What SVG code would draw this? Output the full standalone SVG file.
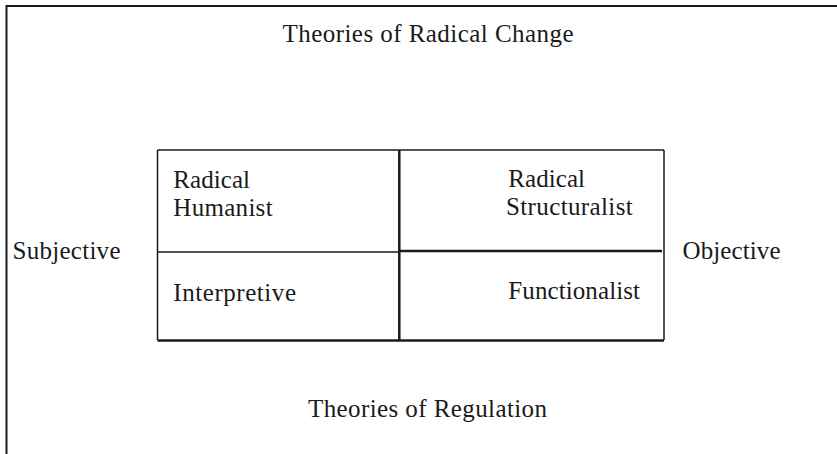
<svg xmlns="http://www.w3.org/2000/svg" width="837" height="454" viewBox="0 0 837 454">
  <style>
    .lbl { font-family: "Liberation Serif", "Times New Roman", serif; font-size: 25px; fill: #1a1a1a; }
    .mid { text-anchor: middle; }
    .frame { stroke: #1a1a1a; stroke-width: 2; fill: none; }
    .thin { stroke: #1a1a1a; stroke-width: 1.5; fill: none; }
    .thick { stroke: #1a1a1a; stroke-width: 2.5; fill: none; }
  </style>
  <rect width="837" height="454" fill="#ffffff"/>

  <!-- outer frame (open on right and bottom) -->
  <g id="frame">
    <line class="frame" x1="6.5" y1="6" x2="837" y2="6"/>
    <line class="frame" x1="6.5" y1="5" x2="6.5" y2="454"/>
  </g>

  <!-- axis labels -->
  <g id="radical-change"><text class="lbl" x="282.5" y="41.5" textLength="291">Theories of Radical Change</text></g>
  <g id="regulation"><text class="lbl" x="308" y="417" textLength="239">Theories of Regulation</text></g>
  <g id="subjective"><text class="lbl" x="12.5" y="259" textLength="108">Subjective</text></g>
  <g id="objective"><text class="lbl" x="682.5" y="259" textLength="98">Objective</text></g>

  <!-- quadrant grid -->
  <g id="grid">
    <line class="thin" x1="157.5" y1="150" x2="664" y2="150"/>
    <line class="thin" x1="157.5" y1="150" x2="157.5" y2="340"/>
    <line class="thin" x1="664" y1="150" x2="664" y2="340"/>
    <line class="thin" x1="157.5" y1="252" x2="399" y2="252"/>
    <line class="thick" x1="399" y1="251" x2="662" y2="251"/>
    <line class="thick" x1="399.3" y1="150" x2="399.3" y2="341"/>
    <line class="thick" x1="157.5" y1="340.5" x2="664" y2="340.5"/>
  </g>

  <!-- quadrants -->
  <g id="radical-humanist">
    <text class="lbl" x="173.3" y="188" textLength="76.7">Radical</text>
    <text class="lbl" x="173.3" y="216" textLength="99.3">Humanist</text>
  </g>
  <g id="radical-structuralist">
    <text class="lbl" x="508.3" y="187" textLength="76.7">Radical</text>
    <text class="lbl" x="506" y="215" textLength="126.7">Structuralist</text>
  </g>
  <g id="interpretive">
    <text class="lbl" x="173.3" y="300.5" textLength="122.7">Interpretive</text>
  </g>
  <g id="functionalist">
    <text class="lbl" x="508.3" y="298.5" textLength="131.7">Functionalist</text>
  </g>
</svg>
